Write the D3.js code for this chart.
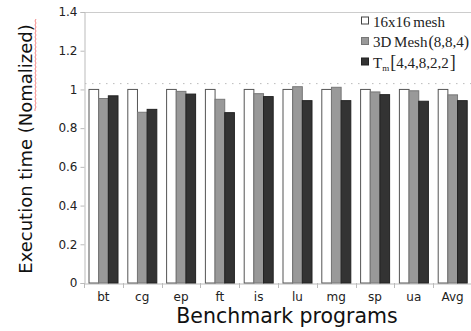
<!DOCTYPE html>
<html><head><meta charset="utf-8">
<script src="https://cdn.jsdelivr.net/npm/d3@7"></script>
<style>body{margin:0;background:#fff}svg{display:block}</style>
</head><body>
<script>
const categories = ["bt","cg","ep","ft","is","lu","mg","sp","ua","Avg"];
const seriesNames = ["16x16 mesh","3D Mesh(8,8,4)","Tm[4,4,8,2,2]"];
const mesh2d = [1,1,1,1,1,1,1,1,1,1];
const mesh3d = [0.953,0.882,0.990,0.949,0.978,1.014,1.011,0.987,0.993,0.972];
const tm = [0.967,0.897,0.976,0.880,0.963,0.942,0.942,0.973,0.939,0.942];
const yTicks = [0,0.2,0.4,0.6,0.8,1,1.2,1.4];
const refLine = 1.03;

const W=471,H=331;
const svg=d3.select("body").append("svg").attr("width",W).attr("height",H);
const y=d3.scaleLinear().domain([0,1.4]).range([283,12]);
const x=d3.scaleBand().domain(categories).range([84,472]);
const x1=d3.scaleBand().domain([0,1,2]).range([5,34]);
const fills=["#ffffff","#999999","#333333"];
const strokes=["#555555","#777777","#222222"];
const series=[mesh2d,mesh3d,tm];

svg.append("line").attr("x1",84).attr("x2",W).attr("y1",y(1.4)+0.5).attr("y2",y(1.4)+0.5).attr("stroke","#ccc");
svg.append("line").attr("x1",85).attr("x2",W).attr("y1",y(refLine)).attr("y2",y(refLine))
  .attr("stroke","#bbb").attr("stroke-dasharray","1.5,5.5");

const ya=svg.append("g").attr("transform","translate(84.5,0)")
  .call(d3.axisLeft(y).tickValues(yTicks).tickSize(4).tickPadding(3).tickFormat(d=>d3.format("")(+d.toFixed(1))));
ya.select(".domain").attr("stroke","#bbb");
ya.selectAll(".tick line").attr("stroke","#bbb");
ya.selectAll(".tick text").attr("font-family","DejaVu Sans").attr("font-size",12).attr("fill","#222");

const xa=svg.append("g").attr("transform","translate(0,283.5)")
  .call(d3.axisBottom(x).tickSize(0).tickPadding(9));
xa.select(".domain").attr("stroke","#bbb");
xa.selectAll(".tick text").attr("font-family","DejaVu Sans").attr("font-size",12).attr("fill","#222");
svg.append("g").selectAll("line").data(categories).join("line")
  .attr("x1",d=>Math.round(x(d))+0.5).attr("x2",d=>Math.round(x(d))+0.5)
  .attr("y1",283).attr("y2",288).attr("stroke","#bbb");

series.forEach((vals,si)=>{
  svg.append("g").selectAll("rect").data(categories).join("rect")
    .attr("x",(d,i)=>x(d)+x1(si))
    .attr("width",x1.bandwidth())
    .attr("y",(d,i)=>y(vals[i]))
    .attr("height",(d,i)=>y(0)-y(vals[i]))
    .attr("fill",fills[si]).attr("stroke",strokes[si]).attr("stroke-width",1);
});

const lg=svg.append("g").attr("font-family","Liberation Serif").attr("font-size",15).attr("fill","#222");
const ly=[26.5,47,67.5];
ly.forEach((yy,i)=>{
  lg.append("rect").attr("x",361.5).attr("y",yy-9.5).attr("width",7).attr("height",7)
    .attr("fill",fills[i]).attr("stroke",i===0?"#444":strokes[i]);
});
lg.append("text").attr("x",373).attr("y",ly[0]).text("16x16 mesh").attr("word-spacing","-1");
const t2=lg.append("text").attr("x",373).attr("y",ly[1]).attr("word-spacing","-1");
t2.append("tspan").text("3D Mesh");
t2.append("tspan").attr("font-size",16).attr("dx",1).text("(");
t2.append("tspan").text("8,8,4");
t2.append("tspan").attr("font-size",16).text(")");
const t3=lg.append("text").attr("x",373).attr("y",ly[2]);
t3.append("tspan").text("T");
t3.append("tspan").attr("font-size",9).attr("dy",3).text("m");
t3.append("tspan").attr("font-size",18).attr("dy",-3).attr("dx",1).text("[");
t3.append("tspan").text("4,4,8,2,2");
t3.append("tspan").attr("font-size",18).attr("dx",1).text("]");

svg.append("text").attr("transform","translate(32,149) rotate(-90)")
  .attr("text-anchor","middle").attr("font-family","DejaVu Sans").attr("font-size",18).attr("fill","#111")
  .text("Execution time (Nomalized)");
let p="M35,111";
for(let yy=111;yy>20;yy-=2){p+=` L${yy%4===1?36:35},${yy-2}`;}
svg.append("path").attr("d",p).attr("fill","none").attr("stroke","#f05050").attr("stroke-width",0.7);

svg.append("text").attr("x",287).attr("y",323).attr("text-anchor","middle")
  .attr("font-family","DejaVu Sans").attr("font-size",20.5).attr("fill","#111").text("Benchmark programs");
</script>
</body></html>
